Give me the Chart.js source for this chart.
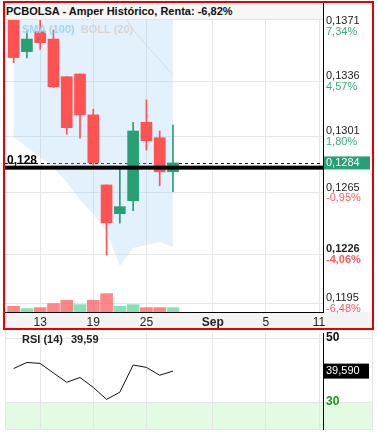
<!DOCTYPE html>
<html>
<head>
<meta charset="utf-8">
<script src="https://cdn.jsdelivr.net/npm/chart.js@4.4.1/dist/chart.umd.min.js"></script>
<style>
    body { margin: 0; background: #fff; font-family: "Liberation Sans", Arial, sans-serif; }
    #marco { position: relative; width: 378px; height: 435px; overflow: hidden; }
    #principal { position: absolute; left: 0; top: 0; }
    #panelRsi { position: absolute; left: 0; top: 330px; }
    #titulo {
        position: absolute; left: 5px; top: 3px; width: 317px; height: 16px;
        padding-left: 1px; background: #f7f7f7; border-bottom: 1px solid #e4e4e4;
        font-weight: bold; font-size: 11px; line-height: 16px; color: #111; white-space: nowrap;
    }
    #leyenda { position: absolute; left: 22px; top: 22px; font-weight: bold; font-size: 11px; line-height: 14px; }
    #leyenda .sma { color: #a3d3f6; }
    #leyenda .boll { color: #d6d6d6; margin-left: 3px; }
</style>
</head>
<body>
<div id="marco">
    <canvas id="principal" width="378" height="330"></canvas>
    <canvas id="panelRsi" width="378" height="105"></canvas>
    <div id="titulo">PCBOLSA - Amper Histórico, Renta: -6,82%</div>
    <div id="leyenda"><span class="sma">SMA (100)</span> <span class="boll">BOLL (20)</span></div>
</div>

<script>
// Datos (sesiones de agosto + huecos futuros hasta el 11 de septiembre)
const fechas = ['11', '12', '13', '14', '15', '18', '19', '20', '21', '22', '25', '26', '27',
                '28', '29', 'Sep', '2', '3', '4', '5', '8', '9', '10', '11'];
const ticksX = [2, 6, 10, 15, 19, 23];

const apertura = [0.1384, 0.13547, 0.13674, 0.13627, 0.13388, 0.13405, 0.13145, 0.1270, 0.12518, 0.1260, 0.13098, 0.1300, 0.12784];
const maximo   = [0.1390, 0.13678, 0.1375, 0.13685, 0.13388, 0.13405, 0.13181, 0.1270, 0.1280, 0.13098, 0.1324, 0.13043, 0.13081];
const minimo   = [0.13477, 0.13507, 0.13562, 0.13318, 0.13022, 0.12997, 0.12827, 0.12255, 0.12457, 0.12537, 0.12922, 0.12695, 0.12657];
const cierre   = [0.13509, 0.13627, 0.13604, 0.13324, 0.13064, 0.13145, 0.12842, 0.1246, 0.12562, 0.13043, 0.12981, 0.12784, 0.1284];
const volumen  = [184000, 110000, 142000, 272000, 379000, 239000, 379000, 595000, 184000, 239000, 142000, 142000, 142000];

const bollSuperior = [0.1604, 0.1600, 0.1594, 0.1587, 0.1580, 0.1574, 0.1562, 0.1552, 0.1546, 0.1507, 0.1486, 0.1465, 0.1449];
const bollMedia    = [0.1452, 0.1447, 0.1441, 0.1434, 0.1426, 0.1417, 0.1407, 0.1396, 0.13824, 0.13685, 0.13589, 0.13494, 0.13399];
const bollInferior = [0.13005, 0.12941, 0.12878, 0.12808, 0.12719, 0.12605, 0.12516, 0.12401, 0.12185, 0.1230, 0.12319, 0.12338, 0.12306];

const rsi = [40.4, 42.3, 42.0, 39.0, 36.1, 37.6, 34.5, 30.75, 33.0, 41.5, 40.75, 38.3, 39.59];

const preciosEje = [0.1371, 0.1336, 0.1301, 0.1265, 0.1226, 0.1195];
const porcentajesEje = ['7,34%', '4,57%', '1,80%', '-0,95%', '-4,06%', '-6,48%'];
const precioDestacado = 0.1226;
const precioReferencia = 0.1281;
const ultimoPrecio = 0.1284;
const nivelesRsi = [50, 30];

// Colores
const ROJO = '#ff5252';
const VERDE = '#26a074';
const VOL_ROJO = 'rgba(255, 82, 82, 0.7)';
const VOL_VERDE = 'rgba(80, 215, 150, 0.7)';
const TXT_VERDE = '#3dae7b';
const TXT_ROJO = '#ff5a5a';
const REJILLA = '#e6e6e6';
const FUENTE = '"Liberation Sans", Arial, sans-serif';

Chart.defaults.font.family = FUENTE;

const coma = (v, d) => v.toFixed(d).replace('.', ',');
const puntos = arr => arr.map((v, i) => ({ x: i, y: v }));

const colorVela = cierre.map((c, i) => c >= apertura[i] ? VERDE : ROJO);
const colorVolumen = cierre.map((c, i) => {
    const previo = i === 0 ? apertura[0] : cierre[i - 1];
    return c >= previo ? VOL_VERDE : VOL_ROJO;
});

// Eje x común a los dos paneles
function ejeX(extra) {
    return Object.assign({
        type: 'linear',
        min: -0.65,
        max: 23.3,
        offset: false,
        afterBuildTicks: s => { s.ticks = ticksX.map(v => ({ value: v })); },
        grid: { color: REJILLA, drawTicks: false, offset: false },
    }, extra);
}

// Decoración del panel principal
const decoracionPrincipal = {
    id: 'decoracionPrincipal',
    beforeDraw(chart) {
        const { ctx, chartArea, scales } = chart;
        ctx.save();
        ctx.fillStyle = '#f3f3f3';
        ctx.fillRect(5, chartArea.bottom, 368, scales.x.bottom - chartArea.bottom);
        ctx.restore();
    },
    beforeDatasetsDraw(chart) {
        const { ctx, chartArea, scales } = chart;
        const y = Math.round(scales.y.getPixelForValue(ultimoPrecio)) + 0.5;
        ctx.save();
        ctx.strokeStyle = '#0000cc';
        ctx.lineWidth = 1;
        ctx.setLineDash([3, 3]);
        ctx.beginPath();
        ctx.moveTo(chartArea.left, y);
        ctx.lineTo(chartArea.right, y);
        ctx.stroke();
        ctx.restore();
    },
    afterDatasetsDraw(chart) {
        const { ctx, chartArea, scales } = chart;
        const y = scales.y.getPixelForValue(precioReferencia);
        ctx.save();
        ctx.fillStyle = '#000';
        ctx.fillRect(chartArea.left, y - 2, chartArea.right - chartArea.left, 4);
        ctx.font = 'bold 12px ' + FUENTE;
        ctx.textBaseline = 'alphabetic';
        ctx.fillText(coma(precioReferencia, 3), 7, y - 4);
        ctx.restore();
    },
    afterDraw(chart) {
        const { ctx, chartArea, scales } = chart;
        const x = chartArea.right + 3;
        ctx.save();
        ctx.textBaseline = 'middle';
        preciosEje.forEach((v, i) => {
            const y = scales.y.getPixelForValue(v);
            ctx.font = (v === precioDestacado ? 'bold ' : '') + '11px ' + FUENTE;
            ctx.fillStyle = '#222';
            ctx.fillText(coma(v, 4), x, y - 5);
            ctx.fillStyle = porcentajesEje[i].startsWith('-') ? TXT_ROJO : TXT_VERDE;
            ctx.fillText(porcentajesEje[i], x, y + 5.5);
        });
        // etiqueta del último precio
        const yu = scales.y.getPixelForValue(ultimoPrecio);
        ctx.fillStyle = VERDE;
        ctx.fillRect(chartArea.right + 1, yu - 6.5, 46, 13);
        ctx.fillStyle = '#fff';
        ctx.font = '11px ' + FUENTE;
        ctx.fillText(coma(ultimoPrecio, 4), x, yu);
        // marco rojo
        ctx.strokeStyle = '#e60000';
        ctx.lineWidth = 2;
        ctx.strokeRect(4, 2, 369, 327);
        ctx.restore();
    }
};

new Chart(document.getElementById('principal'), {
    type: 'bar',
    data: {
        datasets: [
            {
                type: 'line', data: puntos(bollSuperior), borderColor: 'transparent', borderWidth: 0,
                pointRadius: 0, fill: '+1', backgroundColor: 'rgba(150, 205, 245, 0.28)', order: 6
            },
            {
                type: 'line', data: puntos(bollInferior), borderColor: 'transparent', borderWidth: 0,
                pointRadius: 0, fill: false, order: 6
            },
            {
                type: 'line', data: puntos(bollMedia), borderColor: '#dadada', borderWidth: 1,
                pointRadius: 0, fill: false, order: 5
            },
            {
                data: puntos(volumen), yAxisID: 'vol', backgroundColor: colorVolumen,
                barThickness: 12, grouped: false, order: 4
            },
            {
                data: minimo.map((v, i) => ({ x: i, y: [v, maximo[i]] })), backgroundColor: colorVela,
                barThickness: 1, grouped: false, order: 2
            },
            {
                data: apertura.map((v, i) => ({ x: i, y: [v, cierre[i]] })), backgroundColor: colorVela,
                barThickness: 11, grouped: false, order: 1
            }
        ]
    },
    options: {
        responsive: false,
        animation: false,
        layout: { padding: { left: 5, top: 3, right: 0, bottom: 1 } },
        plugins: { legend: { display: false }, tooltip: { enabled: false } },
        scales: {
            x: ejeX({
                afterFit: s => { s.height = 17; },
                border: { color: '#000' },
                ticks: {
                    padding: 3,
                    color: '#222',
                    autoSkip: false,
                    maxRotation: 0,
                    callback: v => fechas[v],
                    font: c => ({ size: 12, weight: (c.tick && fechas[c.tick.value] === 'Sep') ? 'bold' : 'normal' })
                }
            }),
            y: {
                position: 'right',
                min: 0.11893,
                max: 0.13856,
                afterBuildTicks: s => { s.ticks = preciosEje.map(v => ({ value: v })); },
                afterFit: s => { s.width = 55; },
                grid: {
                    drawTicks: false,
                    color: c => (c.tick && c.tick.value === preciosEje[0]) ? 'transparent' : REJILLA
                },
                border: { color: '#000' },
                ticks: { display: false }
            },
            vol: { display: false, min: 0, max: 10000000 }
        }
    },
    plugins: [decoracionPrincipal]
});

// Panel RSI
const decoracionRsi = {
    id: 'decoracionRsi',
    beforeDraw(chart) {
        const { ctx, chartArea, scales } = chart;
        const y30 = scales.y.getPixelForValue(30);
        ctx.save();
        ctx.fillStyle = '#e2fbe2';
        ctx.fillRect(5, y30, 368, chartArea.bottom - y30);
        ctx.strokeStyle = REJILLA;
        ctx.lineWidth = 1;
        nivelesRsi.forEach(n => {
            const y = Math.round(scales.y.getPixelForValue(n)) + 0.5;
            ctx.beginPath();
            ctx.moveTo(5, y);
            ctx.lineTo(373, y);
            ctx.stroke();
        });
        ctx.beginPath();
        ctx.moveTo(5.5, 0);
        ctx.lineTo(5.5, chartArea.bottom + 0.5);
        ctx.lineTo(372.5, chartArea.bottom + 0.5);
        ctx.lineTo(372.5, 0);
        ctx.stroke();
        ctx.restore();
    },
    afterDraw(chart) {
        const { ctx, chartArea, scales } = chart;
        const x = chartArea.right + 3;
        const ultimo = rsi[rsi.length - 1];
        ctx.save();
        ctx.textBaseline = 'middle';
        ctx.font = 'bold 11px ' + FUENTE;
        ctx.fillStyle = '#222';
        ctx.fillText('RSI (14)', 22, 10);
        ctx.fillText(coma(ultimo, 2), 71, 10);
        ctx.font = 'bold 12px ' + FUENTE;
        ctx.fillStyle = '#111';
        ctx.fillText('50', x, scales.y.getPixelForValue(50));
        ctx.fillStyle = '#119911';
        ctx.fillText('30', x, scales.y.getPixelForValue(30));
        const yu = scales.y.getPixelForValue(ultimo);
        ctx.fillStyle = '#000';
        ctx.fillRect(chartArea.right + 1, yu - 7.5, 45, 15);
        ctx.fillStyle = '#fff';
        ctx.font = '11px ' + FUENTE;
        ctx.fillText(coma(ultimo, 3), x, yu);
        ctx.restore();
    }
};

new Chart(document.getElementById('panelRsi'), {
    type: 'line',
    data: {
        datasets: [{
            data: puntos(rsi), borderColor: '#111', borderWidth: 1, pointRadius: 0, fill: false, tension: 0
        }]
    },
    options: {
        responsive: false,
        animation: false,
        layout: { padding: { left: 5, top: 3, right: 0, bottom: 6 } },
        plugins: { legend: { display: false }, tooltip: { enabled: false } },
        scales: {
            x: ejeX({
                afterFit: s => { s.height = 0; },
                border: { display: false },
                ticks: { display: false }
            }),
            y: {
                position: 'right',
                min: 21.5,
                max: 51.5,
                afterFit: s => { s.width = 55; },
                grid: { display: false },
                border: { color: '#000' },
                ticks: { display: false }
            }
        }
    },
    plugins: [decoracionRsi]
});
</script>
</body>
</html>
